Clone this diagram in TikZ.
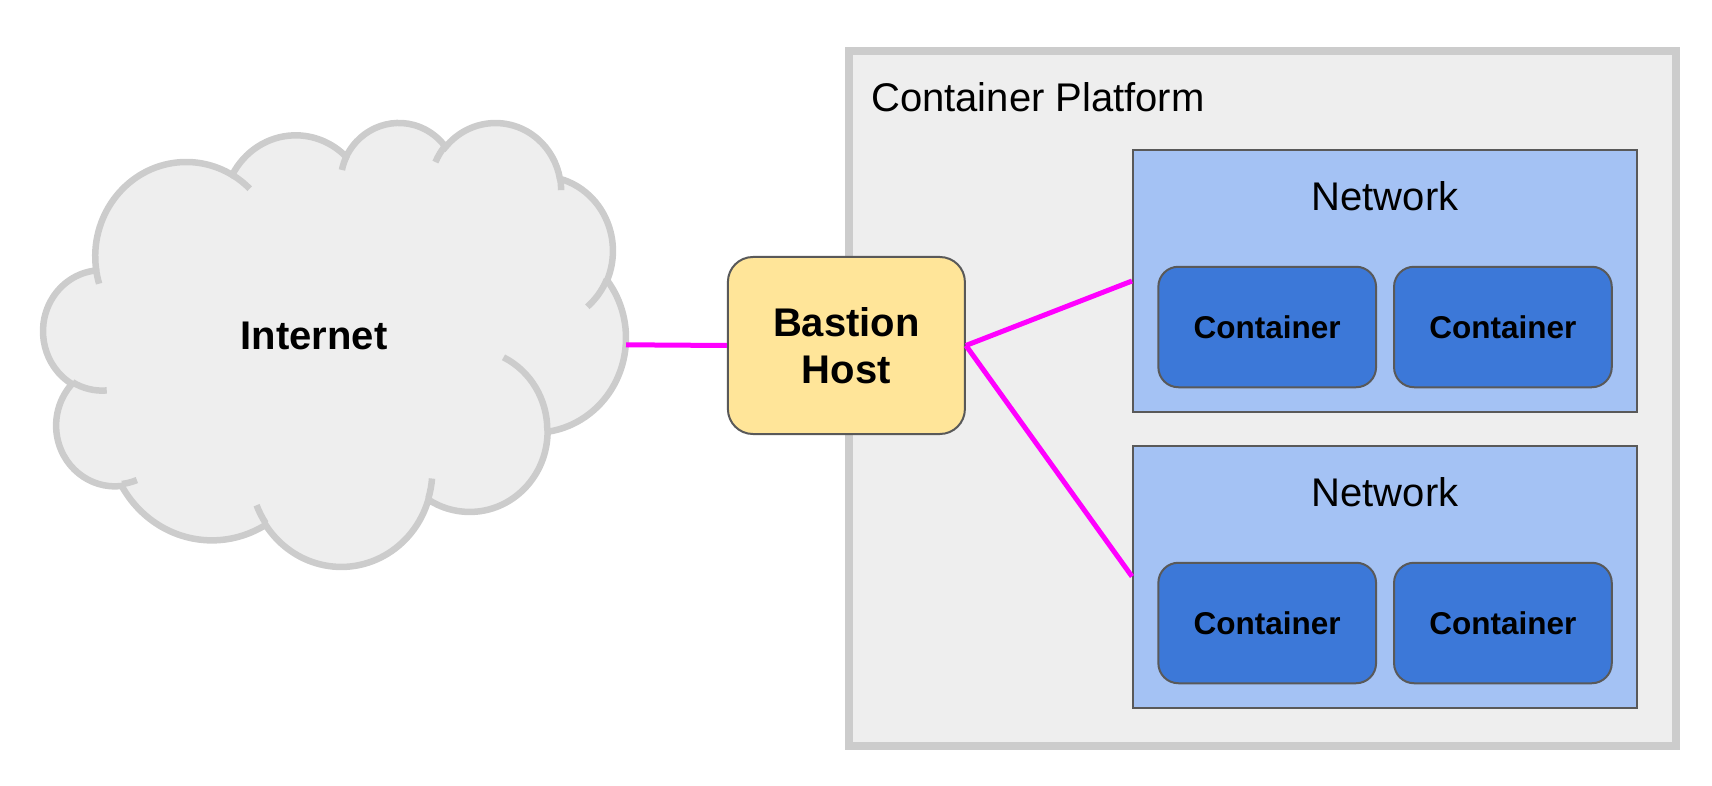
\documentclass[tikz,border=0pt]{standalone}
\usepackage{fontspec}
\setmainfont{Liberation Sans}
\definecolor{cloudline}{HTML}{CCCCCC}
\definecolor{lightfill}{HTML}{EEEEEE}
\definecolor{bastionfill}{HTML}{FFE599}
\definecolor{netfill}{HTML}{A4C2F4}
\definecolor{contfill}{HTML}{3C78D8}
\definecolor{edgegray}{HTML}{595959}
\definecolor{linkmag}{HTML}{FF00FF}
\begin{document}
\begin{tikzpicture}[x=1pt,y=-1pt,
  bigtext/.style={font=\fontsize{40}{47}\selectfont},
  bigbold/.style={font=\bfseries\fontsize{40}{47}\selectfont},
  platformbox/.style={draw=cloudline, line width=7.5pt, fill=lightfill, inner sep=0pt},
  netbox/.style={draw=edgegray, line width=2pt, fill=netfill, inner sep=0pt,
    minimum width=504pt, minimum height=262pt},
  contbox/.style={draw=edgegray, line width=2pt, fill=contfill, rounded corners=20pt,
    inner sep=0pt, minimum width=217.7pt, minimum height=120.5pt,
    font=\bfseries\fontsize{31.5}{36}\selectfont},
  bastionbox/.style={draw=edgegray, line width=2pt, fill=bastionfill, rounded corners=25pt,
    inner sep=0pt, minimum width=237pt, minimum height=177pt, align=center,
    font=\bfseries\fontsize{40}{47}\selectfont},
  cloudshape/.style={draw=cloudline, line width=6.5pt, fill=lightfill},
  cloudtail/.style={draw=cloudline, line width=6.5pt},
  link/.style={draw=linkmag, line width=5pt}
]
\useasboundingbox (0,0) rectangle (1712,786);

% cloud (Internet)
\begin{scope}[shift={(43.5pt,-121.5pt)}, x=0.13478pt, y=-0.10274pt]
  \path[cloudshape] (390,1437)
    arc[start angle=-187.746, end angle=-59.637, x radius=675.3, y radius=919.0]
    arc[start angle=-152.019, end angle=-45.452, x radius=533.3, y radius=726.7]
    arc[start angle=-153.485, end angle=-37.337, x radius=436.5, y radius=594.5]
    arc[start angle=-139.723, end angle=-10.211, x radius=485.7, y radius=659.5]
    arc[start angle=-74.769, end angle=23.212, x radius=533.3, y radius=727.3]
    arc[start angle=-37.515, end angle=81.863, x radius=677.5, y radius=922.0]
    arc[start angle=0.460, end angle=121.978, x radius=578.5, y radius=786.7]
    arc[start angle=16.844, end angle=146.225, x radius=675.2, y radius=921.5]
    arc[start angle=58.984, end angle=150.181, x radius=772.0, y radius=1054.3]
    arc[start angle=83.306, end angle=223.112, x radius=436.0, y radius=591.8]
    arc[start angle=120.357, end angle=264.113, x radius=434.5, y radius=594.5]
    -- cycle;
  \path[cloudtail]
    (469.3,2617.7) arc[start angle=85.547, end angle=120.357, x radius=434.5, y radius=594.5]
    (692.8,3489.9) arc[start angle=68.236, end angle=83.306, x radius=436.0, y radius=591.8]
    (1647.8,3909.0) arc[start angle=146.225, end angle=158.473, x radius=675.2, y radius=921.5]
    (2882.7,3475.1) arc[start angle=4.738, end angle=16.844, x radius=675.2, y radius=921.5]
    (3412.9,2295.4) arc[start angle=-64.030, end angle=0.460, x radius=578.5, y radius=786.7]
    (4179.8,1535.4) arc[start angle=23.212, end angle=49.649, x radius=533.3, y radius=727.3]
    (3832.4,542.6) arc[start angle=-10.211, end angle=0.821, x radius=485.7, y radius=659.5]
    (2907.8,395.2) arc[start angle=-156.274, end angle=-139.723, x radius=485.7, y radius=659.5]
    (2214.1,472.0) arc[start angle=-167.725, end angle=-153.485, x radius=436.5, y radius=594.5]
    (1400.0,519.2) arc[start angle=-59.637, end angle=-45.733, x radius=675.3, y radius=919.0]
    (412.7,1578.9) arc[start angle=163.194, end angle=172.254, x radius=675.3, y radius=919.0];
\end{scope}
\node[bigbold, inner sep=0pt] (internet) at (314,336) {Internet};
\coordinate (cloudE) at (626,344.8);

% container platform
\node[platformbox, minimum width=827pt, minimum height=695pt] (platform) at (1262.5,398.5) {};
\node[bigtext, anchor=base west, inner sep=0pt] (platformlabel) at (871,111.5) {Container Platform};

% networks
\node[netbox] (net1) at (1385,281) {};
\node[bigtext, anchor=base, inner sep=0pt] (net1label) at (1385,210.5) {Network};
\node[contbox] (c11) at (1267.2,327) {Container};
\node[contbox] (c12) at (1502.9,327) {Container};

\node[netbox] (net2) at (1385,576.5) {};
\node[bigtext, anchor=base, inner sep=0pt] (net2label) at (1385,506.5) {Network};
\node[contbox] (c21) at (1267.2,623) {Container};
\node[contbox] (c22) at (1502.9,623) {Container};

% bastion host
\node[bastionbox] (bastion) at (846.4,345.5) {Bastion\\Host};

% links
\draw[link] (cloudE) -- (bastion.west);
\draw[link] (bastion.east) -- (net1.west);
\draw[link] (bastion.east) -- (net2.west);
\end{tikzpicture}
\end{document}
